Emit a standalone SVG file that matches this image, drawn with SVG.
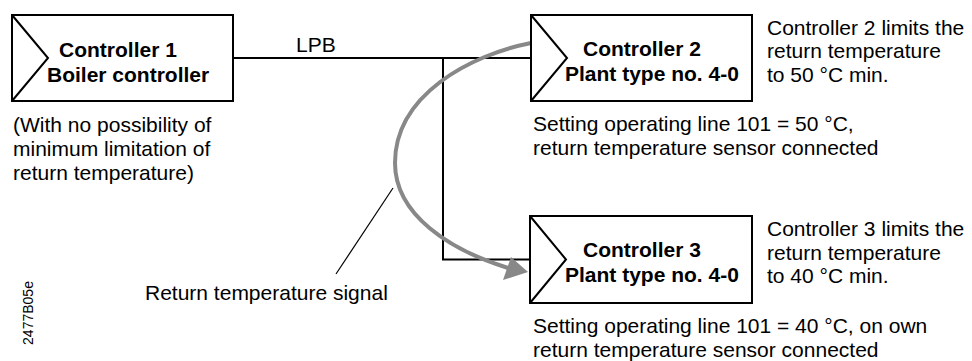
<svg xmlns="http://www.w3.org/2000/svg" width="972" height="361" viewBox="0 0 972 361">
<style>
text{font-family:"Liberation Sans",Arial,sans-serif;font-size:21px;fill:#000}
.b{font-weight:bold}
.box{fill:#fff;stroke:#000;stroke-width:2}
.tri{fill:none;stroke:#000;stroke-width:2}
.wire{fill:none;stroke:#000;stroke-width:2}
.sig{fill:none;stroke:#888;stroke-width:4}
</style>
<rect width="972" height="361" fill="#fff"/>
<g id="connectors">
<path class="wire" d="M233 58 H531"/>
<path class="wire" d="M443 58 V259.5 H530"/>
<path class="sig" d="M531 43 C470 55 395 95 395 163 C395 215 450 250 508 268"/>
<polygon points="528,272 503,280 511,257" fill="#888"/>
<path d="M393 188 L336 274" stroke="#000" stroke-width="1.2"/>
</g>
<g id="controller1">
<rect class="box" x="12" y="15" width="221" height="86"/>
<path class="tri" d="M12 15 L48 58 L12 101"/>
<text class="b" x="59" y="57">Controller 1</text>
<text class="b" x="47" y="82">Boiler controller</text>
</g>
<g id="controller2">
<rect class="box" x="531" y="15" width="221" height="86"/>
<path class="tri" d="M531 15 L567 58 L531 101"/>
<text class="b" x="583" y="56">Controller 2</text>
<text class="b" x="565" y="81">Plant type no. 4-0</text>
</g>
<g id="controller3">
<rect class="box" x="530" y="216" width="222" height="87"/>
<path class="tri" d="M530 216 L566 259.5 L530 303"/>
<text class="b" x="583" y="257">Controller 3</text>
<text class="b" x="565" y="282">Plant type no. 4-0</text>
</g>
<g id="labels">
<text x="296" y="52">LPB</text>
<text x="13" y="132">(With no possibility of</text>
<text x="13" y="156">minimum limitation of</text>
<text x="13" y="180">return temperature)</text>
<text x="767" y="34.5">Controller 2 limits the</text>
<text x="767" y="58">return temperature</text>
<text x="767" y="81.5">to 50 °C min.</text>
<text x="533" y="131">Setting operating line 101 = 50 °C,</text>
<text x="533" y="155">return temperature sensor connected</text>
<text x="767" y="236">Controller 3 limits the</text>
<text x="767" y="259.5">return temperature</text>
<text x="767" y="283">to 40 °C min.</text>
<text x="533" y="333">Setting operating line 101 = 40 °C, on own</text>
<text x="533" y="357">return temperature sensor connected</text>
<text x="145" y="300">Return temperature signal</text>
<text x="33" y="313" font-size="14" text-anchor="middle" transform="rotate(-90 33 313)" style="font-size:14px">2477B05e</text>
</g>
</svg>
